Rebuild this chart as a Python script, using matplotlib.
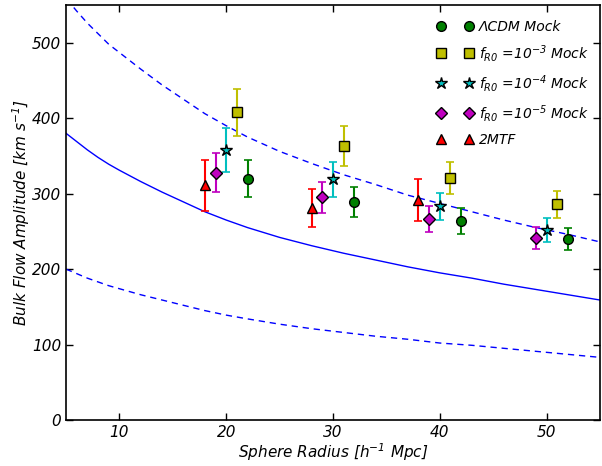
import numpy as np
import matplotlib
matplotlib.use('Agg')
import matplotlib.pyplot as plt

plt.rcParams['font.family'] = ['DejaVu Sans']
plt.rcParams['font.style'] = 'italic'
plt.rcParams['mathtext.fontset'] = 'dejavusans'
plt.rcParams['mathtext.default'] = 'it'
plt.rcParams['font.size'] = 11

# theory curves (mean and +/- band)
r_curve = [5, 6, 7, 8, 9, 10, 12, 14, 16, 18, 20, 22, 25, 28, 31, 34, 37, 40, 43, 46, 49, 52, 55]
v_mean = [380, 369, 358, 348, 339, 331, 316, 302, 289, 276, 265, 255, 242, 231, 221, 212, 203, 195, 188, 180, 173, 166, 159]
v_upper = [559, 542, 526, 512, 498, 487, 465, 444, 425, 406, 390, 375, 356, 340, 325, 312, 298, 287, 276, 265, 255, 246, 236]
v_lower = [200, 194, 188, 183, 178, 174, 166, 159, 152, 145, 139, 134, 127, 121, 116, 111, 107, 102, 99, 95, 91, 87, 83]

# measured bulk flows
r_lcdm = [22, 32, 42, 52]
v_lcdm = [320, 289, 264, 240]
e_lcdm = [25, 20, 17, 15]

r_f3 = [21, 31, 41, 51]
v_f3 = [408, 363, 321, 286]
e_f3 = [31, 26, 21, 18]

r_f4 = [20, 30, 40, 50]
v_f4 = [358, 319, 283, 252]
e_f4 = [29, 23, 18, 16]

r_f5 = [19, 29, 39, 49]
v_f5 = [328, 295, 266, 241]
e_f5 = [26, 20, 17, 15]

r_2mtf = [18, 28, 38]
v_2mtf = [311, 281, 292]
e_2mtf = [34, 25, 28]

fig = plt.figure(figsize=(6.02, 4.66), dpi=100)
ax = fig.add_axes([66/602, 46/466, 534/602, 415/466])

ax.plot(r_curve, v_mean, color='b', lw=1.0)
ax.plot(r_curve, v_upper, color='b', lw=1.0, dashes=(4.5, 3.5))
ax.plot(r_curve, v_lower, color='b', lw=1.0, dashes=(4.5, 3.5))

series = [
    (r_lcdm, v_lcdm, e_lcdm, 'g', 'o', r'ΛCDM Mock'),
    (r_f3, v_f3, e_f3, 'y', 's', r'$f_{R0}$ =10$^{-3}$ Mock'),
    (r_f4, v_f4, e_f4, 'c', '*', r'$f_{R0}$ =10$^{-4}$ Mock'),
    (r_f5, v_f5, e_f5, 'm', 'D', r'$f_{R0}$ =10$^{-5}$ Mock'),
    (r_2mtf, v_2mtf, e_2mtf, 'r', '^', '2MTF'),
]
handles = []
for r, v, e, c, m, lab in series:
    ms = 9 if m == '*' else 7
    if m == 'D':
        ms = 6.5
    ax.errorbar(r, v, yerr=e, fmt='none', ecolor=c, elinewidth=1.5,
                capsize=3, capthick=1.2)
    h, = ax.plot(r, v, ls='none', marker=m, ms=ms, mfc=c, mec='k', mew=1.0,
                 label=lab)
    handles.append(h)

ax.set_xlim(5, 55)
ax.set_ylim(0, 550)
ax.set_xticks([10, 20, 30, 40, 50])
ax.set_yticks([0, 100, 200, 300, 400, 500])
ax.tick_params(direction='in', top=True, right=True, length=5, width=1)
for s in ax.spines.values():
    s.set_linewidth(1.2)

ax.set_xlabel(r'Sphere Radius [h$^{-1}$ Mpc]', labelpad=1)
ax.set_ylabel(r'Bulk Flow Amplitude [km s$^{-1}$]', labelpad=0)

ax.legend(handles=handles, loc='upper right', bbox_to_anchor=(1.006, 1.0),
          numpoints=2, frameon=False, fontsize=10, labelspacing=0.65,
          handlelength=2.6, handletextpad=0.4, borderaxespad=0.65)

fig.savefig('out.png', dpi=100)
